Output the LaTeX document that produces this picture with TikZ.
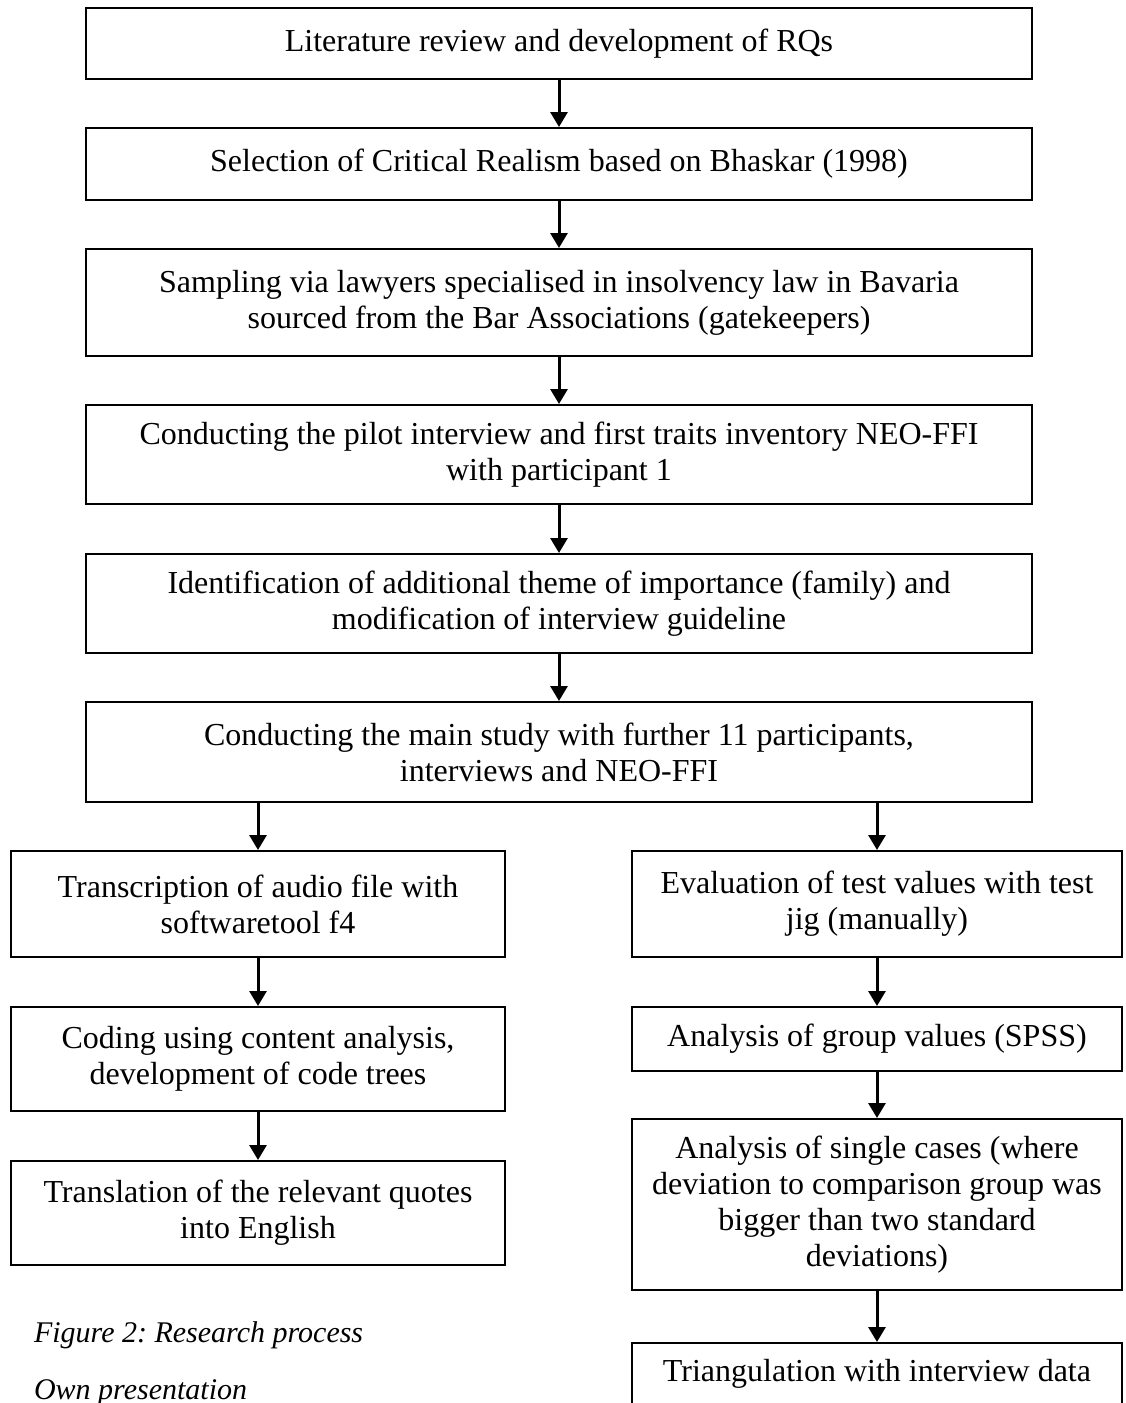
\documentclass[tikz,border=0pt]{standalone}
\usepackage{fontspec}
\setmainfont{Liberation Serif}
\usepackage{tikz}
\usetikzlibrary{positioning,arrows.meta,calc}

\begin{document}
\frenchspacing
\begin{tikzpicture}[x=0.5pt, y=-0.5pt,
      every node/.style={font=\fontsize{16}{18}\selectfont},
      stage/.style={draw, line width=1pt, align=center, inner sep=0pt},
      wide/.style={stage, minimum width=473pt},
      half/.style={stage, minimum width=246pt},
      flow/.style={-{Triangle[length=7.5pt, width=8.5pt]}, line width=1.5pt},
      caption/.style={anchor=base west, font=\fontsize{15}{18}\selectfont\itshape}]
      \useasboundingbox (0,0) rectangle (1125,1403);

      % main chain
      \node[wide, minimum height=35.5pt] (lit) at (559,43.5)
      {Literature review and development of RQs};
      \node[wide, minimum height=36pt] (sel) at (559,164)
      {Selection of Critical Realism based on Bhaskar (1998)};
      \node[wide, minimum height=53.5pt] (sampl) at (559,302.5)
      {Sampling via lawyers specialised in insolvency law in Bavaria\\
        sourced from the Bar Associations (gatekeepers)};
      \node[wide, minimum height=49.5pt] (pilot) at (559,454.5)
      {Conducting the pilot interview and first traits inventory NEO-FFI\\
        with participant 1};
      \node[wide, minimum height=49.5pt] (theme) at (559,603.5)
      {Identification of additional theme of importance (family) and\\
        modification of interview guideline};
      \node[wide, minimum height=50pt] (study) at (559,752)
      {Conducting the main study with further 11 participants,\\
        interviews and NEO-FFI};

      % interview branch
      \node[half, minimum width=247pt, minimum height=53pt] (transcr) at (258,904)
      {Transcription of audio file with\\softwaretool f4};
      \node[half, minimum width=247pt, minimum height=52pt] (coding) at (258,1059)
      {Coding using content analysis,\\development of code trees};
      \node[half, minimum width=247pt, minimum height=52pt] (transl) at (258,1213)
      {Translation of the relevant quotes\\into English};

      % NEO-FFI branch
      \node[half, minimum width=245pt, minimum height=53pt] (eval) at (877,904)
      {Evaluation of test values with test\\jig (manually)};
      \node[half, minimum width=245pt, minimum height=32pt] (group) at (877,1039)
      {Analysis of group values (SPSS)};
      \node[half, minimum width=245pt, minimum height=85.5pt] (single) at (877,1204.5)
      {Analysis of single cases (where\\deviation to comparison group was\\
        bigger than two standard\\deviations)};
      \node[half, minimum width=245pt, anchor=north, text height=12pt, text depth=30pt,
      inner ysep=7pt] (triang) at (877,1342) {Triangulation with interview data};

      \node[caption] (fig) at (27,1342) {Figure 2: Research process};
      \node[caption] (own) at (27,1399) {Own presentation};

      \foreach \i/\j in {lit/sel, sel/sampl, sampl/pilot, pilot/theme, theme/study,
        transcr/coding, coding/transl, eval/group, group/single, single/triang} {
        \draw[flow] (\i) -- (\j);
      };
      \foreach \j in {transcr, eval} {
        \draw[flow] (study.south -| \j.north) -- (\j.north);
      };
    \end{tikzpicture}
\end{document}
